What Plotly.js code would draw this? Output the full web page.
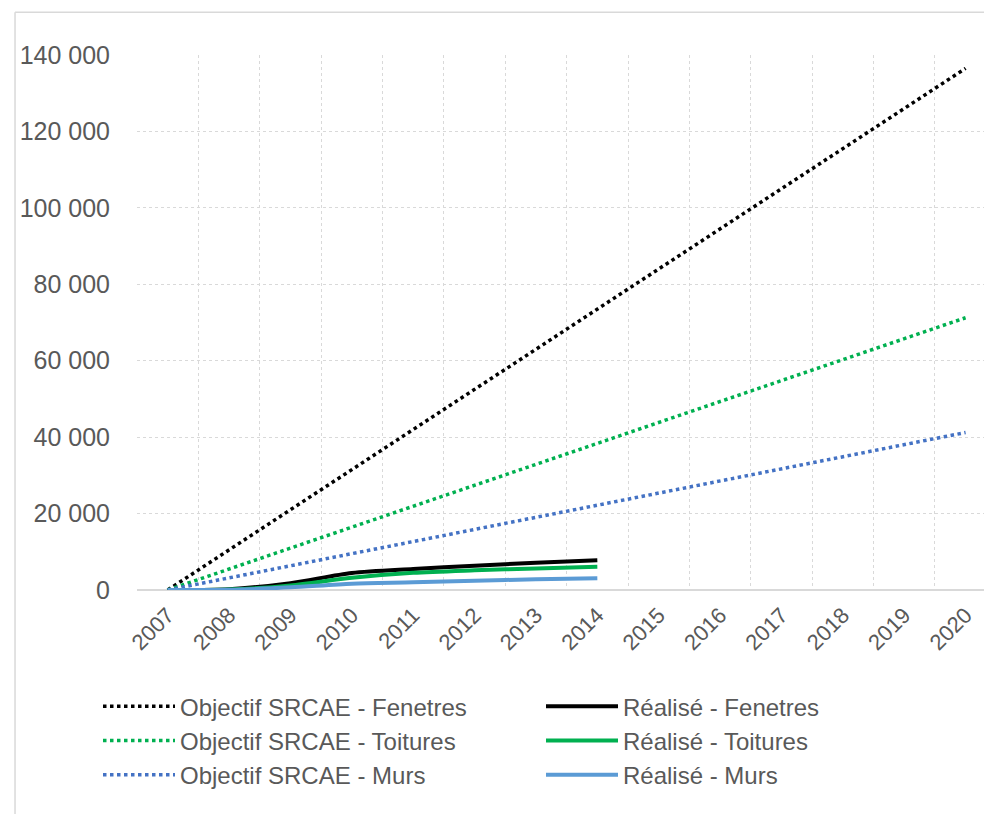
<!DOCTYPE html>
<html>
<head>
<meta charset="utf-8">
<script src="https://cdn.plot.ly/plotly-3.0.1.min.js"></script>
<style>
html,body{margin:0;padding:0;background:#fff;}
#chart{width:984px;height:814px;}
</style>
</head>
<body>
<div id="chart"></div>
<script>
// Categories (years)
const years = ['2007','2008','2009','2010','2011','2012','2013','2014','2015','2016','2017','2018','2019','2020'];
const yearsRealise = ['2007','2008','2009','2010','2011','2012','2013','2014'];

// Objectif SRCAE (targets)
const objFenetres = [0,10500,21000,31500,42000,52500,63000,73500,84000,94500,105000,115500,126000,136500];
const objToitures = [0,5480,10960,16440,21920,27400,32880,38360,43840,49320,54800,60280,65760,71240];
const objMurs     = [0,3170,6340,9510,12680,15850,19020,22190,25360,28530,31700,34870,38040,41210];

// Réalisé (achieved)
const realFenetres = [0,200,1800,4450,5500,6350,7150,7800];
const realToitures = [0,100,1200,3200,4500,5150,5650,6100];
const realMurs     = [0,50,700,1650,2000,2430,2800,3050];

const names = {
  objF:'Objectif SRCAE - Fenetres', realF:'Réalisé - Fenetres',
  objT:'Objectif SRCAE - Toitures', realT:'Réalisé - Toitures',
  objM:'Objectif SRCAE - Murs', realM:'Réalisé - Murs'
};

const traces = [
  {x:years, y:objFenetres, name:names.objF, mode:'lines', line:{color:'#000000', width:3.5, dash:'dot'}},
  {x:yearsRealise, y:realFenetres, name:names.realF, mode:'lines', line:{color:'#000000', width:4, shape:'spline', smoothing:0.8}},
  {x:years, y:objToitures, name:names.objT, mode:'lines', line:{color:'#00B050', width:3.5, dash:'dot'}},
  {x:yearsRealise, y:realToitures, name:names.realT, mode:'lines', line:{color:'#00B050', width:4, shape:'spline', smoothing:0.8}},
  {x:years, y:objMurs, name:names.objM, mode:'lines', line:{color:'#4472C4', width:3.5, dash:'dot'}},
  {x:yearsRealise, y:realMurs, name:names.realM, mode:'lines', line:{color:'#5B9BD5', width:4, shape:'spline', smoothing:0.8}}
];

const fontFam = '"Liberation Sans", Arial, sans-serif';
const layout = {
  width:984, height:814,
  margin:{l:137, r:0, t:55, b:224},
  paper_bgcolor:'#ffffff', plot_bgcolor:'#ffffff',
  separators:', ',
  font:{family:fontFam, color:'#595959', size:22},
  showlegend:true,
  xaxis:{
    type:'category', categoryorder:'array', categoryarray:years,
    range:[-0.5, 13.3], tickson:'boundaries', ticks:'',
    tickangle:-45, tickfont:{size:22, color:'#595959'}, ticklabelstandoff:7,
    showgrid:true, gridcolor:'#D9D9D9', griddash:'dot', gridwidth:1,
    showline:false, zeroline:false, fixedrange:true
  },
  yaxis:{
    range:[0,140000], dtick:20000, tickformat:',d', ticks:'',
    tickfont:{size:25, color:'#595959'}, ticklabelstandoff:26,
    showgrid:true, gridcolor:'#D9D9D9', griddash:'dot', gridwidth:1,
    zeroline:true, zerolinecolor:'#D9D9D9', zerolinewidth:1.5,
    showline:false, fixedrange:true
  },
  legend:{
    orientation:'h', x:-0.034, xanchor:'left', y:-0.176, yanchor:'top',
    entrywidth:356, entrywidthmode:'pixels', itemwidth:72,
    font:{family:fontFam, size:24, color:'#595959'},
    tracegroupgap:0, bgcolor:'rgba(0,0,0,0)'
  },
  shapes:[
    {type:'line', xref:'paper', yref:'paper', x0:-0.144, x1:-0.144, y0:1.08, y1:-0.45, line:{color:'#D9D9D9', width:1.5}},
    {type:'line', xref:'paper', yref:'paper', x0:-0.144, x1:1.02, y0:1.08, y1:1.08, line:{color:'#D9D9D9', width:1.5}}
  ]
};

Plotly.newPlot('chart', traces, layout, {displayModeBar:false, staticPlot:true});
</script>
</body>
</html>
